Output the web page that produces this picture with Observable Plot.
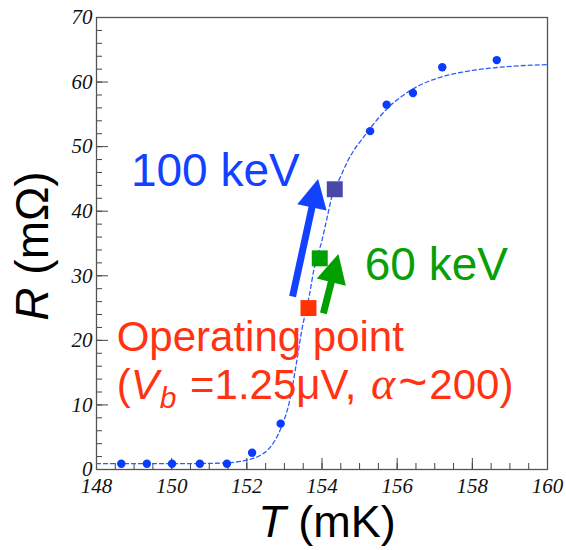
<!DOCTYPE html>
<html>
<head>
<meta charset="utf-8">
<script src="https://cdn.jsdelivr.net/npm/d3@7"></script>
<script src="https://cdn.jsdelivr.net/npm/@observablehq/plot@0.6"></script>
<style>
  html, body { margin: 0; padding: 0; background: #fff; }
  svg { display: block; }
</style>
</head>
<body>
<div id="chart"></div>
<script>
// measured points
const dotT = [148.66, 149.34, 150.01, 150.75, 151.47, 152.14, 152.90, 155.28, 155.72, 156.42, 157.20, 158.65];
const dotR = [0.9, 0.9, 0.9, 0.9, 0.9, 2.6, 7.1, 52.4, 56.5, 58.3, 62.3, 63.4];

// fitted curve
const fitT = [148, 149, 150, 151, 151.5, 151.96, 152.36, 152.6, 152.9, 153.16, 153.3, 153.47, 153.67, 153.78, 154.0, 154.14, 154.26, 154.49, 154.67, 155.2, 155.72, 156.44, 157.24, 158.0, 158.74, 160];
const fitR = [0.9, 0.9, 0.9, 0.95, 1.05, 1.4, 2.2, 3.3, 6.3, 11.2, 15.8, 21.8, 27.2, 30.8, 35.5, 39.1, 42.2, 45.3, 47.6, 52.2, 55.8, 59.0, 60.9, 61.8, 62.3, 62.7];

// operating point and pulse heights
const sqName = ["operating", "60 keV", "100 keV"];
const sqT = [153.64, 153.94, 154.34];
const sqR = [25.0, 32.7, 43.4];
const sqColor = ["#ff3300", "#00a000", "#4848a8"];

// arrows (start -> tip)
const arrowName = ["100 keV", "60 keV"];
const arrowT0 = [153.23, 154.05];
const arrowR0 = [26.7, 24.1];
const arrowT1 = [153.91, 154.45];
const arrowR1 = [44.9, 33.3];
const arrowColor = ["#1241ff", "#00a000"];

// ticks
const xMajor = [148, 150, 152, 154, 156, 158, 160];
const xMinor = d3.range(148, 160.01, 0.5);
const yMajor = [0, 10, 20, 30, 40, 50, 60, 70];
const yMinor = d3.range(0, 70.01, 2);

// annotation anchors (data units)
const lbl100 = {T: 148.93, R: 43.9};
const lbl60 = {T: 155.15, R: 29.3};
const lblOp = {T: 148.55, R: 18.2};

const dots = dotT.map((t, i) => ({T: t, R: dotR[i]}));
const fit = fitT.map((t, i) => ({T: t, R: fitR[i]}));
const squares = sqT.map((t, i) => ({name: sqName[i], T: t, R: sqR[i], c: sqColor[i]}));

const tickFont = {fontFamily: "Liberation Serif", fontStyle: "italic", fontSize: 21};

function arrows(index, scales) {
  const {x, y} = scales;
  const g = d3.create("svg:g");
  const headLen = 29, halfW = 15, shaftW = 7;
  arrowName.forEach((n, i) => {
    const x1 = x(arrowT0[i]), y1 = y(arrowR0[i]);
    const x2 = x(arrowT1[i]), y2 = y(arrowR1[i]);
    const dx = x2 - x1, dy = y2 - y1, L = Math.hypot(dx, dy);
    const ux = dx / L, uy = dy / L, nx = -uy, ny = ux;
    const bx = x2 - ux * headLen, by = y2 - uy * headLen;
    g.append("line")
      .attr("x1", x1).attr("y1", y1)
      .attr("x2", bx + ux * 2).attr("y2", by + uy * 2)
      .attr("stroke", arrowColor[i]).attr("stroke-width", shaftW);
    g.append("polygon")
      .attr("points", [[x2, y2], [bx + nx * halfW, by + ny * halfW], [bx - nx * halfW, by - ny * halfW]].map(p => p.join(",")).join(" "))
      .attr("fill", arrowColor[i]);
  });
  return g.node();
}

function labels(index, scales, values, dims) {
  const {x, y} = scales;
  const g = d3.create("svg:g")
    .attr("font-family", "Liberation Sans, Arial, sans-serif")
    .attr("text-anchor", "start");
  g.append("text").attr("x", x(lbl100.T)).attr("y", y(lbl100.R))
    .attr("font-size", 46).attr("fill", "#1241ff").text("100 keV");
  g.append("text").attr("x", x(lbl60.T)).attr("y", y(lbl60.R))
    .attr("font-size", 46).attr("fill", "#06a006").text("60 keV");
  const red = "#ff3311";
  g.append("text").attr("x", x(lblOp.T)).attr("y", y(lblOp.R))
    .attr("font-size", 42).attr("fill", red).text("Operating point");
  const t2 = g.append("text").attr("x", x(lblOp.T)).attr("y", y(lblOp.R) + 48)
    .attr("font-size", 42).attr("fill", red);
  t2.append("tspan").text("(");
  t2.append("tspan").attr("font-style", "italic").text("V");
  t2.append("tspan").attr("font-style", "italic").attr("font-size", 30).attr("dy", 9).attr("dx", 1).text("b");
  t2.append("tspan").attr("dy", -9).attr("dx", 2).text("\u00a0=1.25\u03bcV, ");
  t2.append("tspan").attr("font-family", "Liberation Serif").attr("font-style", "italic").attr("font-size", 46).attr("dx", 3).text("\u03b1");
  t2.append("tspan").attr("font-size", 50).attr("dx", 3).text("~");
  t2.append("tspan").attr("dx", 2).text("200)");
  // axis titles
  const tx = g.append("text").attr("x", 327).attr("y", 537).attr("text-anchor", "middle")
    .attr("font-size", 45).attr("fill", "#000");
  tx.append("tspan").attr("font-style", "italic").text("T");
  tx.append("tspan").text(" (mK)");
  const ty = g.append("text").attr("transform", "translate(48,246) rotate(-90)").attr("text-anchor", "middle")
    .attr("font-size", 46).attr("fill", "#000");
  ty.append("tspan").attr("font-style", "italic").text("R");
  ty.append("tspan").text(" (m\u03a9)");
  return g.node();
}

const plot = Plot.plot({
  width: 566,
  height: 550,
  marginLeft: 96,
  marginRight: 19,
  marginTop: 17,
  marginBottom: 81,
  x: {domain: [148, 160]},
  y: {domain: [0, 70]},
  style: {background: "#fff", overflow: "visible"},
  marks: [
    Plot.axisX({ticks: xMinor, tickSize: -6, tickFormat: () => "", label: null, stroke: "#444"}),
    Plot.axisX({ticks: xMajor, tickSize: -11, tickFormat: () => "", label: null, stroke: "#444"}),
    Plot.axisX({ticks: xMajor, tickSize: 0, tickPadding: 9, label: null, fill: "#111", ...tickFont}),
    Plot.axisY({ticks: yMinor, tickSize: -6, tickFormat: () => "", label: null, stroke: "#444"}),
    Plot.axisY({ticks: yMajor, tickSize: -12, tickFormat: () => "", label: null, stroke: "#444"}),
    Plot.axisY({ticks: yMajor, tickSize: 0, tickPadding: 4, label: null, fill: "#111", ...tickFont}),
    Plot.frame({stroke: "#555", strokeWidth: 1.3}),
    Plot.line(fit, {x: "T", y: "R", curve: "monotone-x", stroke: "#2a5cff", strokeWidth: 1.3, strokeDasharray: "4,3"}),
    Plot.dot(dots, {x: "T", y: "R", r: 4.2, fill: "#0a3cff"}),
    Plot.dot(squares, {x: "T", y: "R", symbol: "square", r: 9, fill: "c"}),
    arrows,
    labels
  ]
});
document.getElementById("chart").appendChild(plot);
</script>
</body>
</html>
